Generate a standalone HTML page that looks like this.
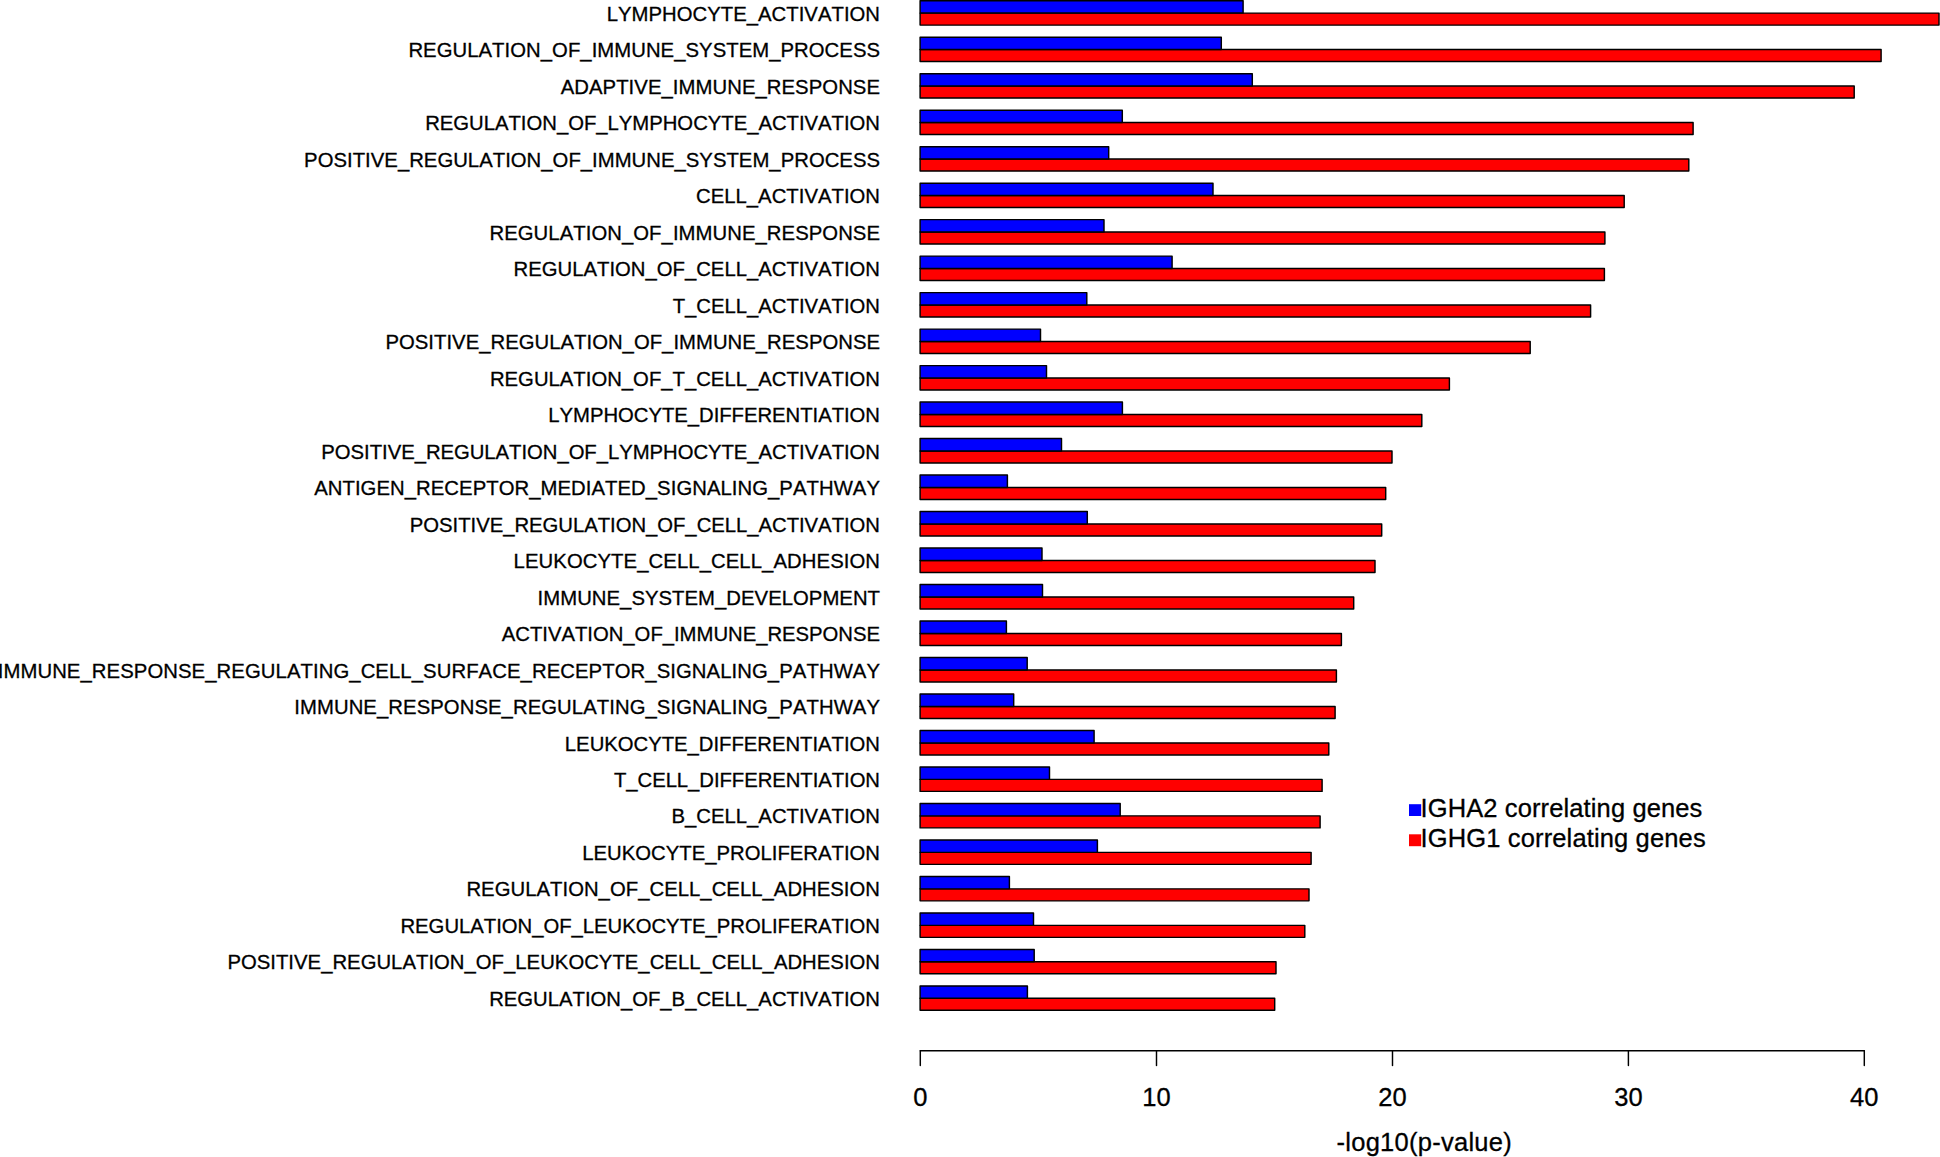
<!DOCTYPE html>
<html><head><meta charset="utf-8"><title>GO enrichment barplot</title>
<style>
html,body{margin:0;padding:0;background:#fff;}
body{width:1940px;height:1157px;overflow:hidden;}
svg{display:block;}
text{font-family:"Liberation Sans",Arial,Helvetica,sans-serif;fill:#000;stroke:#000;stroke-width:0.3px;font-kerning:none;font-variant-ligatures:none;}
.lb{font-size:20.3px;text-anchor:end;}
.ax{font-size:25.5px;text-anchor:middle;}
.lg{font-size:25.5px;}
.b{fill:#0000ff;stroke:#000;stroke-width:1.45;stroke-linejoin:round;}
.r{fill:#ff0000;stroke:#000;stroke-width:1.45;stroke-linejoin:round;}
.l{stroke:#000;stroke-width:1.45;fill:none;stroke-linecap:round;}
</style></head><body>
<svg width="1940" height="1157" viewBox="0 0 1940 1157">
<rect x="0" y="0" width="1940" height="1157" fill="#ffffff"/>

<rect class="r" x="920.10" y="13.10" width="1018.90" height="12.00"/>
<rect class="b" x="920.10" y="0.70" width="323.00" height="12.40"/>
<text id="L0" class="lb" transform="translate(880.00 21.00) scale(1 1.035)" textLength="273.25">LYMPHOCYTE_ACTIVATION</text>
<rect class="r" x="920.10" y="49.59" width="961.00" height="12.00"/>
<rect class="b" x="920.10" y="37.19" width="301.20" height="12.40"/>
<text id="L1" class="lb" transform="translate(880.00 57.48) scale(1 1.035)" textLength="471.59">REGULATION_OF_IMMUNE_SYSTEM_PROCESS</text>
<rect class="r" x="920.10" y="86.08" width="934.10" height="12.00"/>
<rect class="b" x="920.10" y="73.68" width="332.20" height="12.40"/>
<text id="L2" class="lb" transform="translate(880.00 93.95) scale(1 1.035)" textLength="319.34">ADAPTIVE_IMMUNE_RESPONSE</text>
<rect class="r" x="920.10" y="122.57" width="773.00" height="12.00"/>
<rect class="b" x="920.10" y="110.17" width="202.20" height="12.40"/>
<text id="L3" class="lb" transform="translate(880.00 130.43) scale(1 1.035)" textLength="454.82">REGULATION_OF_LYMPHOCYTE_ACTIVATION</text>
<rect class="r" x="920.10" y="159.06" width="768.70" height="12.00"/>
<rect class="b" x="920.10" y="146.66" width="188.60" height="12.40"/>
<text id="L4" class="lb" transform="translate(880.00 166.90) scale(1 1.035)" textLength="575.91">POSITIVE_REGULATION_OF_IMMUNE_SYSTEM_PROCESS</text>
<rect class="r" x="920.10" y="195.55" width="704.10" height="12.00"/>
<rect class="b" x="920.10" y="183.15" width="292.90" height="12.40"/>
<text id="L5" class="lb" transform="translate(880.00 203.38) scale(1 1.035)" textLength="184.03">CELL_ACTIVATION</text>
<rect class="r" x="920.10" y="232.04" width="684.80" height="12.00"/>
<rect class="b" x="920.10" y="219.64" width="183.90" height="12.40"/>
<text id="L6" class="lb" transform="translate(880.00 239.85) scale(1 1.035)" textLength="390.54">REGULATION_OF_IMMUNE_RESPONSE</text>
<rect class="r" x="920.10" y="268.53" width="684.30" height="12.00"/>
<rect class="b" x="920.10" y="256.13" width="252.00" height="12.40"/>
<text id="L7" class="lb" transform="translate(880.00 276.33) scale(1 1.035)" textLength="366.42">REGULATION_OF_CELL_ACTIVATION</text>
<rect class="r" x="920.10" y="305.02" width="670.50" height="12.00"/>
<rect class="b" x="920.10" y="292.62" width="166.70" height="12.40"/>
<text id="L8" class="lb" transform="translate(880.00 312.80) scale(1 1.035)" textLength="207.30">T_CELL_ACTIVATION</text>
<rect class="r" x="920.10" y="341.51" width="610.10" height="12.00"/>
<rect class="b" x="920.10" y="329.11" width="120.40" height="12.40"/>
<text id="L9" class="lb" transform="translate(880.00 349.28) scale(1 1.035)" textLength="494.56">POSITIVE_REGULATION_OF_IMMUNE_RESPONSE</text>
<rect class="r" x="920.10" y="378.00" width="529.30" height="12.00"/>
<rect class="b" x="920.10" y="365.60" width="126.40" height="12.40"/>
<text id="L10" class="lb" transform="translate(880.00 385.75) scale(1 1.035)" textLength="390.08">REGULATION_OF_T_CELL_ACTIVATION</text>
<rect class="r" x="920.10" y="414.49" width="501.70" height="12.00"/>
<rect class="b" x="920.10" y="402.09" width="202.30" height="12.40"/>
<text id="L11" class="lb" transform="translate(880.00 422.23) scale(1 1.035)" textLength="331.66">LYMPHOCYTE_DIFFERENTIATION</text>
<rect class="r" x="920.10" y="450.98" width="471.90" height="12.00"/>
<rect class="b" x="920.10" y="438.58" width="141.40" height="12.40"/>
<text id="L12" class="lb" transform="translate(880.00 458.70) scale(1 1.035)" textLength="558.66">POSITIVE_REGULATION_OF_LYMPHOCYTE_ACTIVATION</text>
<rect class="r" x="920.10" y="487.47" width="465.60" height="12.00"/>
<rect class="b" x="920.10" y="475.07" width="87.30" height="12.40"/>
<text id="L13" class="lb" transform="translate(880.00 495.18) scale(1 1.035)" textLength="565.82">ANTIGEN_RECEPTOR_MEDIATED_SIGNALING_PATHWAY</text>
<rect class="r" x="920.10" y="523.96" width="461.60" height="12.00"/>
<rect class="b" x="920.10" y="511.56" width="167.20" height="12.40"/>
<text id="L14" class="lb" transform="translate(880.00 531.65) scale(1 1.035)" textLength="470.24">POSITIVE_REGULATION_OF_CELL_ACTIVATION</text>
<rect class="r" x="920.10" y="560.45" width="454.90" height="12.00"/>
<rect class="b" x="920.10" y="548.05" width="121.90" height="12.40"/>
<text id="L15" class="lb" transform="translate(880.00 568.12) scale(1 1.035)" textLength="366.42">LEUKOCYTE_CELL_CELL_ADHESION</text>
<rect class="r" x="920.10" y="596.94" width="433.60" height="12.00"/>
<rect class="b" x="920.10" y="584.54" width="122.40" height="12.40"/>
<text id="L16" class="lb" transform="translate(880.00 604.60) scale(1 1.035)" textLength="342.39">IMMUNE_SYSTEM_DEVELOPMENT</text>
<rect class="r" x="920.10" y="633.43" width="421.30" height="12.00"/>
<rect class="b" x="920.10" y="621.03" width="86.30" height="12.40"/>
<text id="L17" class="lb" transform="translate(880.00 641.08) scale(1 1.035)" textLength="378.18">ACTIVATION_OF_IMMUNE_RESPONSE</text>
<rect class="r" x="920.10" y="669.92" width="416.30" height="12.00"/>
<rect class="b" x="920.10" y="657.52" width="107.10" height="12.40"/>
<text id="L18" class="lb" transform="translate(880.00 677.55) scale(1 1.035)" textLength="882.27">IMMUNE_RESPONSE_REGULATING_CELL_SURFACE_RECEPTOR_SIGNALING_PATHWAY</text>
<rect class="r" x="920.10" y="706.41" width="415.00" height="12.00"/>
<rect class="b" x="920.10" y="694.01" width="93.60" height="12.40"/>
<text id="L19" class="lb" transform="translate(880.00 714.02) scale(1 1.035)" textLength="585.70">IMMUNE_RESPONSE_REGULATING_SIGNALING_PATHWAY</text>
<rect class="r" x="920.10" y="742.90" width="408.70" height="12.00"/>
<rect class="b" x="920.10" y="730.50" width="174.00" height="12.40"/>
<text id="L20" class="lb" transform="translate(880.00 750.50) scale(1 1.035)" textLength="315.16">LEUKOCYTE_DIFFERENTIATION</text>
<rect class="r" x="920.10" y="779.39" width="402.00" height="12.00"/>
<rect class="b" x="920.10" y="766.99" width="129.40" height="12.40"/>
<text id="L21" class="lb" transform="translate(880.00 786.98) scale(1 1.035)" textLength="266.01">T_CELL_DIFFERENTIATION</text>
<rect class="r" x="920.10" y="815.88" width="400.00" height="12.00"/>
<rect class="b" x="920.10" y="803.48" width="200.10" height="12.40"/>
<text id="L22" class="lb" transform="translate(880.00 823.45) scale(1 1.035)" textLength="208.44">B_CELL_ACTIVATION</text>
<rect class="r" x="920.10" y="852.37" width="391.00" height="12.00"/>
<rect class="b" x="920.10" y="839.97" width="177.30" height="12.40"/>
<text id="L23" class="lb" transform="translate(880.00 859.93) scale(1 1.035)" textLength="297.75">LEUKOCYTE_PROLIFERATION</text>
<rect class="r" x="920.10" y="888.86" width="388.90" height="12.00"/>
<rect class="b" x="920.10" y="876.46" width="89.30" height="12.40"/>
<text id="L24" class="lb" transform="translate(880.00 896.40) scale(1 1.035)" textLength="413.56">REGULATION_OF_CELL_CELL_ADHESION</text>
<rect class="r" x="920.10" y="925.35" width="384.70" height="12.00"/>
<rect class="b" x="920.10" y="912.95" width="113.40" height="12.40"/>
<text id="L25" class="lb" transform="translate(880.00 932.88) scale(1 1.035)" textLength="479.53">REGULATION_OF_LEUKOCYTE_PROLIFERATION</text>
<rect class="r" x="920.10" y="961.84" width="355.90" height="12.00"/>
<rect class="b" x="920.10" y="949.44" width="114.10" height="12.40"/>
<text id="L26" class="lb" transform="translate(880.00 969.35) scale(1 1.035)" textLength="652.63">POSITIVE_REGULATION_OF_LEUKOCYTE_CELL_CELL_ADHESION</text>
<rect class="r" x="920.10" y="998.33" width="354.60" height="12.00"/>
<rect class="b" x="920.10" y="985.93" width="107.30" height="12.40"/>
<text id="L27" class="lb" transform="translate(880.00 1005.83) scale(1 1.035)" textLength="390.83">REGULATION_OF_B_CELL_ACTIVATION</text>
<path class="l" d="M920.3 1050.8H1864.3"/>
<path class="l" d="M920.3 1050.8V1065.4"/>
<text class="ax" x="920.3" y="1105.6">0</text>
<path class="l" d="M1156.5 1050.8V1065.4"/>
<text class="ax" x="1156.5" y="1105.6">10</text>
<path class="l" d="M1392.5 1050.8V1065.4"/>
<text class="ax" x="1392.5" y="1105.6">20</text>
<path class="l" d="M1628.4 1050.8V1065.4"/>
<text class="ax" x="1628.4" y="1105.6">30</text>
<path class="l" d="M1864.3 1050.8V1065.4"/>
<text class="ax" x="1864.3" y="1105.6">40</text>
<text id="T" class="ax" x="1424.1" y="1150.9" textLength="175.22">-log10(p-value)</text>
<rect x="1409" y="804.2" width="12.2" height="11.8" fill="#0000ff"/>
<rect x="1409" y="834.3" width="12.2" height="11.9" fill="#ff0000"/>
<text id="G1" class="lg" x="1420.5" y="817.2" textLength="281.83">IGHA2 correlating genes</text>
<text id="G2" class="lg" x="1420.5" y="847.4" textLength="285.16">IGHG1 correlating genes</text>
</svg></body></html>
